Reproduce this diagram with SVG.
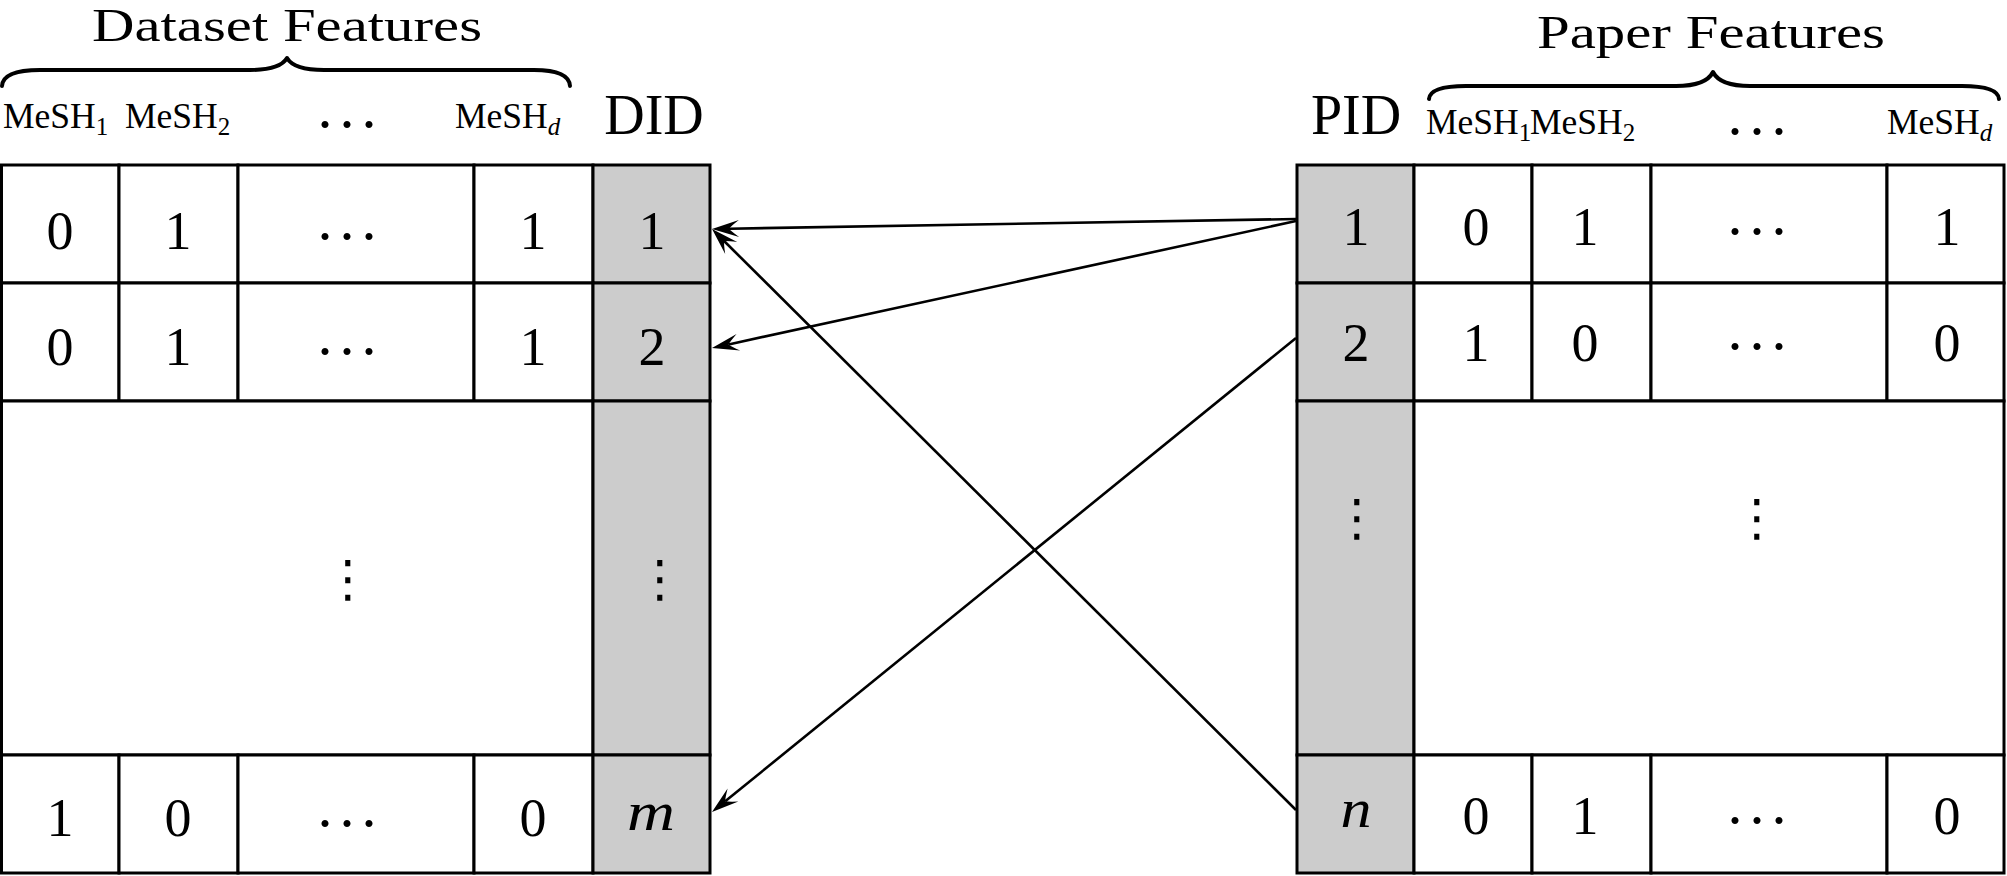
<svg xmlns="http://www.w3.org/2000/svg" width="2007" height="876" viewBox="0 0 2007 876">
<style>
.cell{fill:#ffffff;stroke:#000000;stroke-width:3}
.id{fill:#cccccc;stroke:#000000;stroke-width:3}
.t{font-family:"Liberation Serif","DejaVu Serif",serif;fill:#000000;text-anchor:middle}
.num{font-size:54px}
.it{font-style:italic}
.big{font-size:47px}
.hdr{font-size:56px}
.mesh{font-family:"Liberation Serif","DejaVu Serif",serif;font-size:35.5px;fill:#000000}
.sub{font-size:25px}
.dots{font-family:"Liberation Serif","DejaVu Serif",serif;font-size:60px;fill:#000000;text-anchor:middle}
.vdots{font-family:"DejaVu Sans",sans-serif;font-size:50px;fill:#000000;text-anchor:middle}
.brace{fill:none;stroke:#000000;stroke-width:4;stroke-linecap:round;stroke-linejoin:round}
.conn{fill:none;stroke:#000000;stroke-width:2.6}
</style>
<defs>
<marker id="arr" markerUnits="userSpaceOnUse" markerWidth="30" markerHeight="20" viewBox="0 -10 30 20" refX="10" refY="0" orient="auto" overflow="visible">
<path d="M27,0 L0,-8.5 Q8,-2.5 10,0 Q8,2.5 0,8.5 Z" fill="#000000"/>
</marker>
</defs>

<g id="dataset-title">
<text class="t big" x="287" y="41" textLength="390" lengthAdjust="spacingAndGlyphs">Dataset Features</text>
<path class="brace" d="M2,86 Q3,70 40,70 L250,70 Q280,70 287,58 Q294,70 324,70 L534,70 Q569,70 570,86"/>
</g>
<g id="dataset-header">
<text class="mesh" x="3" y="128">MeSH<tspan class="sub" dy="7">1</tspan></text>
<text class="mesh" x="125" y="128">MeSH<tspan class="sub" dy="7">2</tspan></text>
<text class="dots" x="347" y="144" textLength="64" lengthAdjust="spacing">···</text>
<text class="mesh" x="455" y="128">MeSH<tspan class="sub it" dy="7">d</tspan></text>
<text class="t hdr" x="654" y="134">DID</text>
</g>

<g id="dataset-table">
<g id="d-row1">
<rect class="cell" x="1.5" y="165" width="117.5" height="118"/>
<rect class="cell" x="119" y="165" width="119" height="118"/>
<rect class="cell" x="238" y="165" width="236" height="118"/>
<rect class="cell" x="474" y="165" width="119" height="118"/>
<rect class="id" x="593" y="165" width="117" height="118"/>
<text class="t num" x="60" y="249">0</text>
<text class="t num" x="178" y="249">1</text>
<text class="dots" x="347" y="255.5" textLength="64" lengthAdjust="spacing">···</text>
<text class="t num" x="533" y="249">1</text>
<text class="t num" x="652" y="249">1</text>
</g>
<g id="d-row2">
<rect class="cell" x="1.5" y="283" width="117.5" height="118"/>
<rect class="cell" x="119" y="283" width="119" height="118"/>
<rect class="cell" x="238" y="283" width="236" height="118"/>
<rect class="cell" x="474" y="283" width="119" height="118"/>
<rect class="id" x="593" y="283" width="117" height="118"/>
<text class="t num" x="60" y="365">0</text>
<text class="t num" x="178" y="365">1</text>
<text class="dots" x="347" y="370.5" textLength="64" lengthAdjust="spacing">···</text>
<text class="t num" x="533" y="365">1</text>
<text class="t num" x="652" y="365">2</text>
</g>
<g id="d-row3">
<rect class="cell" x="1.5" y="401" width="591.5" height="354"/>
<rect class="id" x="593" y="401" width="117" height="354"/>
<text class="vdots" x="348" y="596">⋮</text>
<text class="vdots" x="660" y="596">⋮</text>
</g>
<g id="d-row4">
<rect class="cell" x="1.5" y="755" width="117.5" height="118"/>
<rect class="cell" x="119" y="755" width="119" height="118"/>
<rect class="cell" x="238" y="755" width="236" height="118"/>
<rect class="cell" x="474" y="755" width="119" height="118"/>
<rect class="id" x="593" y="755" width="117" height="118"/>
<text class="t num" x="60" y="836">1</text>
<text class="t num" x="178" y="836">0</text>
<text class="dots" x="347" y="842.5" textLength="64" lengthAdjust="spacing">···</text>
<text class="t num" x="533" y="836">0</text>
<text class="t num it" x="651" y="830" textLength="48" lengthAdjust="spacingAndGlyphs">m</text>
</g>
</g>

<g id="paper-title">
<text class="t big" x="1711" y="48" textLength="348" lengthAdjust="spacingAndGlyphs">Paper Features</text>
<path class="brace" d="M1429,99 Q1430,86 1466,86 L1676,86 Q1706,86 1713,72 Q1720,86 1750,86 L1962,86 Q1998,86 1999,99"/>
</g>
<g id="paper-header">
<text class="t hdr" x="1356" y="134">PID</text>
<text class="mesh" x="1426" y="134">MeSH<tspan class="sub" dy="7">1</tspan></text>
<text class="mesh" x="1530" y="134">MeSH<tspan class="sub" dy="7">2</tspan></text>
<text class="dots" x="1757" y="151" textLength="64" lengthAdjust="spacing">···</text>
<text class="mesh" x="1887" y="134">MeSH<tspan class="sub it" dy="7">d</tspan></text>
</g>

<g id="paper-table">
<g id="p-row1">
<rect class="id" x="1297" y="165" width="117" height="118"/>
<rect class="cell" x="1414" y="165" width="118" height="118"/>
<rect class="cell" x="1532" y="165" width="119" height="118"/>
<rect class="cell" x="1651" y="165" width="236" height="118"/>
<rect class="cell" x="1887" y="165" width="117" height="118"/>
<text class="t num" x="1356" y="245">1</text>
<text class="t num" x="1476" y="245">0</text>
<text class="t num" x="1585" y="245">1</text>
<text class="dots" x="1757" y="250.5" textLength="64" lengthAdjust="spacing">···</text>
<text class="t num" x="1947" y="245">1</text>
</g>
<g id="p-row2">
<rect class="id" x="1297" y="283" width="117" height="118"/>
<rect class="cell" x="1414" y="283" width="118" height="118"/>
<rect class="cell" x="1532" y="283" width="119" height="118"/>
<rect class="cell" x="1651" y="283" width="236" height="118"/>
<rect class="cell" x="1887" y="283" width="117" height="118"/>
<text class="t num" x="1356" y="361">2</text>
<text class="t num" x="1476" y="361">1</text>
<text class="t num" x="1585" y="361">0</text>
<text class="dots" x="1757" y="365.5" textLength="64" lengthAdjust="spacing">···</text>
<text class="t num" x="1947" y="361">0</text>
</g>
<g id="p-row3">
<rect class="id" x="1297" y="401" width="117" height="354"/>
<rect class="cell" x="1414" y="401" width="590" height="354"/>
<text class="vdots" x="1357" y="535">⋮</text>
<text class="vdots" x="1757" y="535">⋮</text>
</g>
<g id="p-row4">
<rect class="id" x="1297" y="755" width="117" height="118"/>
<rect class="cell" x="1414" y="755" width="118" height="118"/>
<rect class="cell" x="1532" y="755" width="119" height="118"/>
<rect class="cell" x="1651" y="755" width="236" height="118"/>
<rect class="cell" x="1887" y="755" width="117" height="118"/>
<text class="t num it" x="1356" y="827" textLength="31" lengthAdjust="spacingAndGlyphs">n</text>
<text class="t num" x="1476" y="834">0</text>
<text class="t num" x="1585" y="834">1</text>
<text class="dots" x="1757" y="839.5" textLength="64" lengthAdjust="spacing">···</text>
<text class="t num" x="1947" y="834">0</text>
</g>
</g>

<g id="connectors">
<path class="conn" marker-end="url(#arr)" d="M1296,219 L729,228.7"/>
<path class="conn" marker-end="url(#arr)" d="M1296,221 L728.6,344.4"/>
<path class="conn" marker-end="url(#arr)" d="M1296,338 L725.2,801.3"/>
<path class="conn" marker-end="url(#arr)" d="M1296,810 L724.1,241"/>
</g>
</svg>
